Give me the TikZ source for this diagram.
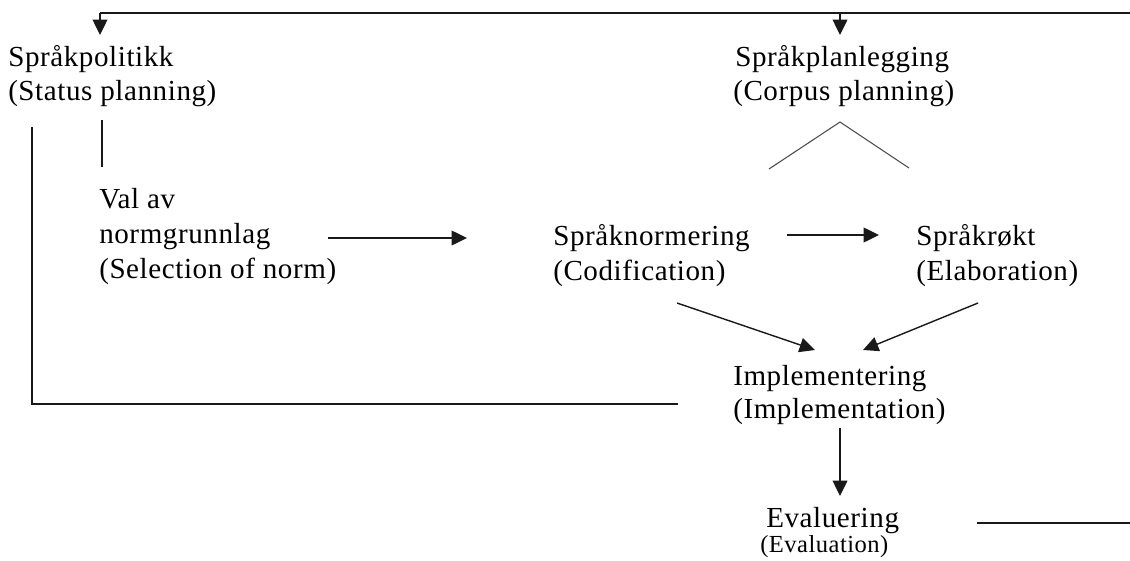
\documentclass[tikz,border=0pt]{standalone}
\usepackage{fontspec}
\setmainfont{Liberation Serif}[LetterSpace=2]
\usetikzlibrary{arrows.meta}
\begin{document}
\begin{tikzpicture}[x=0.75pt,y=-0.75pt,
  lbl/.style={anchor=base west,inner sep=0pt,text=black,font=\fontsize{21.8}{25}\selectfont},
  smalllbl/.style={lbl,font=\fontsize{18.4}{22}\selectfont},
  conn/.style={line width=1.05pt,draw=black!90},
  thinconn/.style={line width=0.8pt,draw=black!70},
  arr/.style={conn,-{Triangle[length=11.5pt,width=11pt]}}]
\useasboundingbox (0,0) rectangle (1130,560);
\fill[white] (0,0) rectangle (1130,560);
% labels
\node[lbl] (spol1) at (8,67) {Språkpolitikk};
\node[lbl] (spol2) at (8,100) {(Status planning)};
\node[lbl] (spl1) at (735,67) {Språkplanlegging};
\node[lbl] (spl2) at (733,100) {(Corpus planning)};
\node[lbl] (val1) at (99,208) {Val av};
\node[lbl] (val2) at (99,243) {normgrunnlag};
\node[lbl] (val3) at (99,278) {(Selection of norm)};
\node[lbl] (snorm1) at (553,245) {Språknormering};
\node[lbl] (snorm2) at (553,280) {(Codification)};
\node[lbl] (srokt1) at (916,245) {Språkrøkt};
\node[lbl] (srokt2) at (916,280) {(Elaboration)};
\node[lbl] (impl1) at (733,385) {Implementering};
\node[lbl] (impl2) at (733,418) {(Implementation)};
\node[lbl] (eval1) at (766,527) {Evaluering};
\node[smalllbl] (eval2) at (760,552) {(Evaluation)};
% coordinates
\coordinate (tl) at (100,13);
\coordinate (tm) at (840,13);
\coordinate (tr) at (1130,13);
\coordinate (spolTip) at (100,35);
\coordinate (splTip) at (840,35);
\coordinate (vs1) at (102,120);
\coordinate (vs2) at (102,167);
\coordinate (lb1) at (32,127);
\coordinate (lb2) at (32,404);
\coordinate (lb3) at (678,404);
\coordinate (a1s) at (328,238);
\coordinate (a1e) at (467,238);
\coordinate (a2s) at (787,235);
\coordinate (a2e) at (879,235);
\coordinate (cl) at (769,169);
\coordinate (ct) at (840,122);
\coordinate (cr) at (909,168);
\coordinate (d1s) at (677,303);
\coordinate (d1e) at (815,350);
\coordinate (d2s) at (978,303);
\coordinate (d2e) at (863,350);
\coordinate (i1) at (840,428);
\coordinate (i2) at (840,496);
\coordinate (ev1) at (977,523);
\coordinate (ev2) at (1130,523);
% connectors
\draw[conn] (tr) -- (tl);
\draw[arr] (tl) -- (spolTip);
\draw[arr] (tm) -- (splTip);
\draw[conn] (vs1) -- (vs2);
\draw[conn] (lb1) -- (lb2) -- (lb3);
\draw[arr] (a1s) -- (a1e);
\draw[arr] (a2s) -- (a2e);
\draw[thinconn] (cl) -- (ct) -- (cr);
\draw[arr] (d1s) -- (d1e);
\draw[arr] (d2s) -- (d2e);
\draw[arr] (i1) -- (i2);
\draw[conn] (ev1) -- (ev2);
\end{tikzpicture}
\end{document}
